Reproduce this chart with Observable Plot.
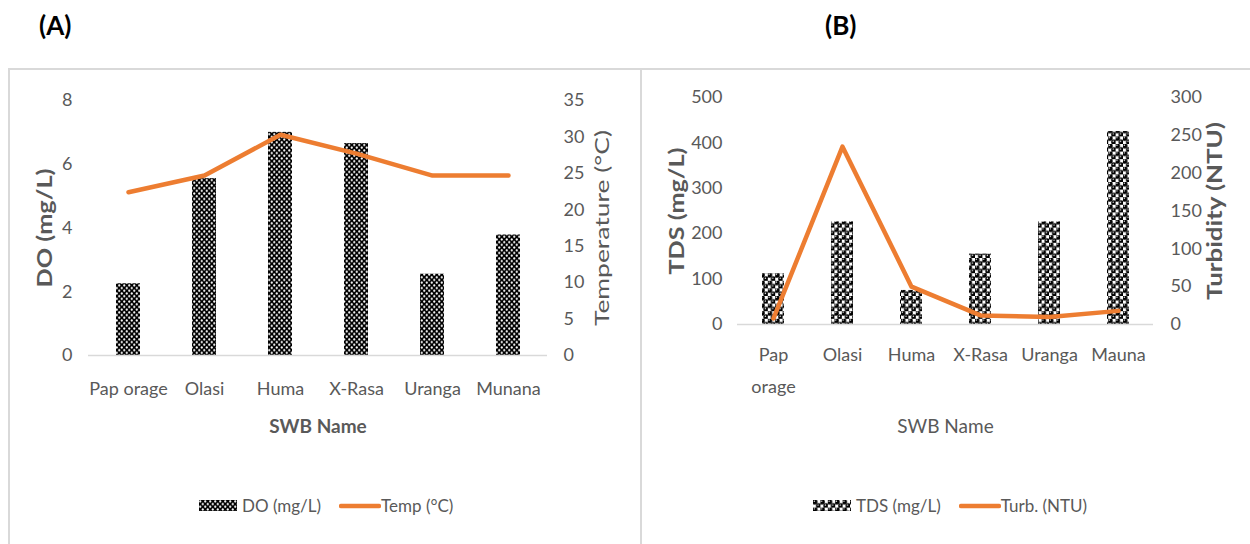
<!DOCTYPE html>
<html><head><meta charset="utf-8">
<script src="https://cdn.jsdelivr.net/npm/d3@7"></script>
<script src="https://cdn.jsdelivr.net/npm/@observablehq/plot@0.6"></script>
<style>
body{margin:0;background:#fff;}
#root{position:relative;width:1250px;height:544px;overflow:hidden;background:#fff;font-family:Lato,"Open Sans",sans-serif;}
.frame{position:absolute;border:2px solid #d9d9d9;box-sizing:border-box;}
.panel{position:absolute;font-weight:bold;font-size:26px;color:#000;line-height:1;}
.legend{position:absolute;display:flex;align-items:center;font-size:17px;color:#595959;white-space:nowrap;}
</style></head>
<body><div id="root">
<svg width="0" height="0" style="position:absolute">
<defs>
<pattern id="patA" width="5" height="5.4" patternUnits="userSpaceOnUse">
<rect width="5" height="5.4" fill="#000"/>
<circle cx="1.25" cy="1.35" r="1.1" fill="#fff"/>
<circle cx="3.75" cy="4.05" r="1.1" fill="#fff"/>
</pattern>
<pattern id="patB" width="7.4" height="7.6" patternUnits="userSpaceOnUse">
<rect width="7.4" height="7.6" fill="#fff"/>
<circle cx="1.85" cy="1.9" r="2.6" fill="#000"/>
<circle cx="5.55" cy="5.7" r="2.6" fill="#000"/>
<circle cx="1.3" cy="1.2" r="0.7" fill="#fff"/>
<circle cx="5.0" cy="5.0" r="0.7" fill="#fff"/>
</pattern>
</defs></svg>
</div>
<script>
// ---- data ----
const sitesA = ["Pap orage","Olasi","Huma","X-Rasa","Uranga","Munana"];
const doValues = [2.25, 5.55, 7.0, 6.65, 2.55, 3.78];
const tempValues = [22.4, 24.7, 30.3, 27.7, 24.7, 24.7];
const sitesB = ["Pap orage","Olasi","Huma","X-Rasa","Uranga","Mauna"];
const tdsValues = [112, 226, 75, 155, 226, 425];
const turbValues = [8, 235, 50, 12, 10, 18];
const doTicks = [0,2,4,6,8];
const tempTicks = [0,5,10,15,20,25,30,35];
const tdsTicks = [0,100,200,300,400,500];
const turbTicks = [0,50,100,150,200,250,300];

const dataA = sitesA.map((s,i)=>({site:s, do:doValues[i], temp:tempValues[i]}));
const dataB = sitesB.map((s,i)=>({site:s, tds:tdsValues[i], turb:turbValues[i]}));

const root = document.getElementById("root");
const FONT = 'Lato,"Open Sans",sans-serif';
const GREY = "#595959";
const ORANGE = "#ED7D31";

function place(el, left, top){
  el.style.position="absolute"; el.style.left=left+"px"; el.style.top=top+"px";
  root.appendChild(el); return el;
}
function stretch(svg, txt, len){
  d3.select(svg).selectAll("text").filter(function(){return this.textContent===txt;})
    .attr("textLength", len).attr("lengthAdjust","spacingAndGlyphs");
}
function div(cls, html, left, top){
  const d=document.createElement("div"); d.className=cls; d.innerHTML=html;
  d.style.left=left+"px"; d.style.top=top+"px"; root.appendChild(d); return d;
}
// rotated axis title: starts at the bottom and runs upward for `len` pixels
function vTitle(label, anchor, dx, len, bold){
  return Plot.text([label],{text:d=>d, frameAnchor:anchor, textAnchor:"start", dx, dy:len/2,
    rotate:-90, fontSize:20, fontWeight:bold?"bold":"normal", fill:GREY});
}

// frames and panel letters
div("frame","",8,68).style.cssText+="width:634px;height:490px;";
div("frame","",640,68).style.cssText+="width:620px;height:490px;";
div("panel","(A)",39,12);
div("panel","(B)",825,12);

// ---------- Panel A ----------
const A = {width:632, height:476, marginLeft:80, marginRight:93, marginTop:32, marginBottom:189};
const xA = {type:"band", domain:sitesA, paddingInner:0.686, paddingOuter:0.343, axis:null};
const styleBase = {fontFamily:FONT, fontSize:"18px", color:GREY, background:"transparent", overflow:"visible"};

const barsA = Plot.plot({
  ...A, x:xA, y:{domain:[0,8], axis:null}, style:styleBase,
  marks:[
    Plot.barY(dataA,{x:"site", y:"do", fill:"url(#patA)"}),
    Plot.ruleY([0],{stroke:"#d9d9d9", strokeWidth:1.5}),
    Plot.axisY(doTicks,{anchor:"left", tickSize:0, tickPadding:16, label:null}),
    Plot.axisX({tickSize:0, tickPadding:27, label:null}),
    vTitle("DO (mg/L)","left",-43,119,true),
    Plot.text(["SWB Name"],{text:d=>d, frameAnchor:"bottom", dy:77, fontSize:19, fontWeight:"bold", fill:GREY})
  ]
});
stretch(barsA,"DO (mg/L)",119);
place(barsA,8,68);

const lineA = Plot.plot({
  ...A, x:xA, y:{domain:[0,35], axis:null}, style:styleBase,
  marks:[
    Plot.lineY(dataA,{x:"site", y:"temp", stroke:ORANGE, strokeWidth:4.5, strokeLinejoin:"round"}),
    Plot.axisY(tempTicks,{anchor:"right", tickSize:0, tickPadding:16, label:null}),
    vTitle("Temperature (°C)","right",55,196,false)
  ]
});
stretch(lineA,"Temperature (°C)",196);
place(lineA,8,68);

// ---------- Panel B ----------
const B = {width:608, height:476, marginLeft:95, marginRight:97, marginTop:29, marginBottom:220};
const xB = {type:"band", domain:sitesB, paddingInner:0.683, paddingOuter:0.3415, axis:null};

const barsB = Plot.plot({
  ...B, x:xB, y:{domain:[0,500], axis:null}, style:styleBase,
  marks:[
    Plot.barY(dataB,{x:"site", y:"tds", fill:"url(#patB)"}),
    Plot.ruleY([0],{stroke:"#d9d9d9", strokeWidth:1.5}),
    Plot.axisY(tdsTicks,{anchor:"left", tickSize:0, tickPadding:15, label:null}),
    Plot.axisX({tickSize:0, tickPadding:13, label:null, lineHeight:1.8, tickFormat:d=>d==="Pap orage"?"Pap\norage":d}),
    vTitle("TDS (mg/L)","left",-60,127,true),
    Plot.text(["SWB Name"],{text:d=>d, frameAnchor:"bottom", dy:108, fontSize:19, fill:GREY})
  ]
});
stretch(barsB,"TDS (mg/L)",127);
place(barsB,642,68);

const lineB = Plot.plot({
  ...B, x:xB, y:{domain:[0,300], axis:null}, style:styleBase,
  marks:[
    Plot.lineY(dataB,{x:"site", y:"turb", stroke:ORANGE, strokeWidth:4.5, strokeLinejoin:"round"}),
    Plot.axisY(turbTicks,{anchor:"right", tickSize:0, tickPadding:17, label:null}),
    vTitle("Turbidity (NTU)","right",62,178,true)
  ]
});
stretch(lineB,"Turbidity (NTU)",178);
place(lineB,642,68);

// ---------- Legends ----------
function legend(left, top, pat, label1, label2){
  const d=document.createElement("div"); d.className="legend";
  d.style.left=left+"px"; d.style.top=top+"px";
  d.innerHTML =
    `<svg width="38" height="11" style="margin-right:5px"><rect width="38" height="11" fill="url(#${pat})"/></svg>`+
    `<span>${label1}</span>`+
    `<svg width="42" height="10" style="margin-left:18px"><line x1="2" y1="5" x2="40" y2="5" stroke="${ORANGE}" stroke-width="4.5" stroke-linecap="round"/></svg>`+
    `<span>${label2}</span>`;
  root.appendChild(d);
}
legend(199, 495, "patA", "DO (mg/L)", "Temp (°C)");
legend(813, 495, "patB", "TDS (mg/L)", "Turb. (NTU)");
</script>
</body></html>
